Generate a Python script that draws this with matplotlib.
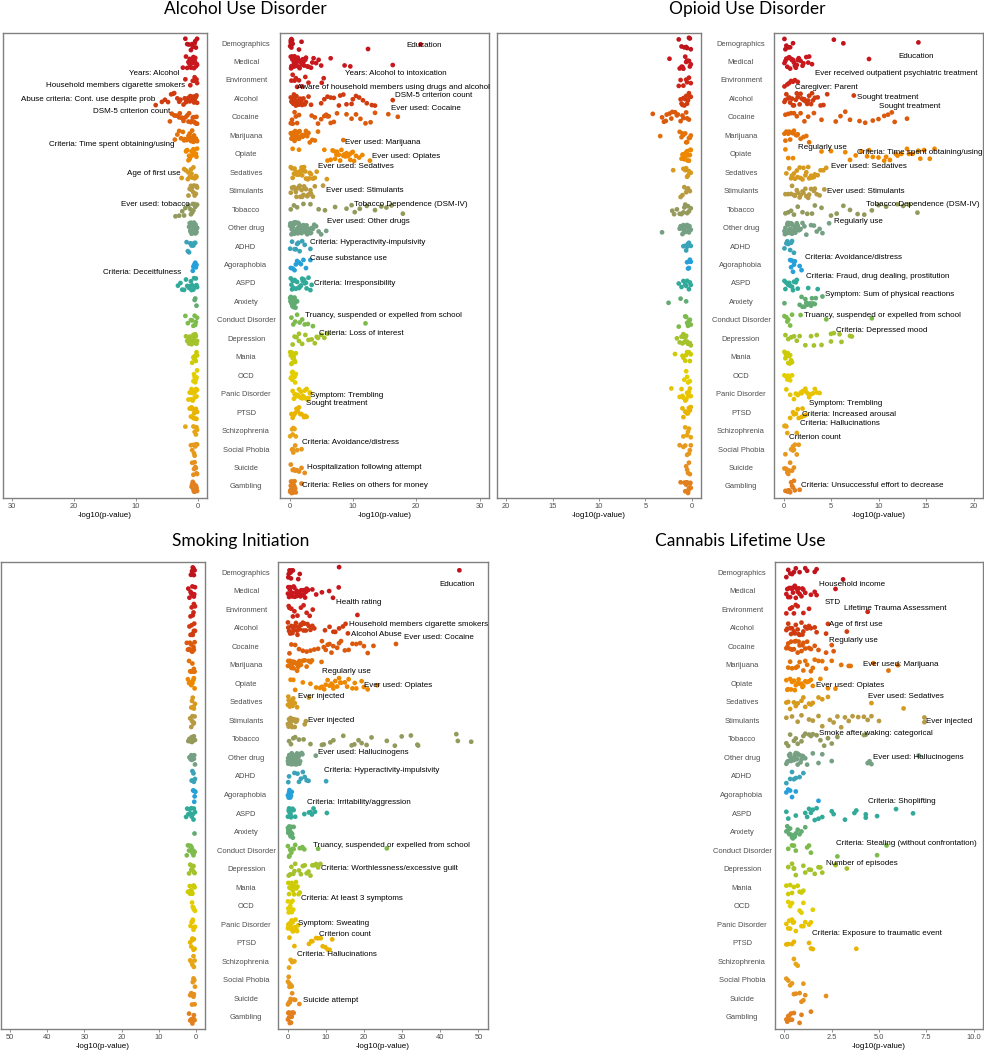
import numpy as np
import pandas as pd
import matplotlib
matplotlib.use("Agg")
import matplotlib.pyplot as plt
import matplotlib.transforms as mtransforms
import seaborn as sns

plt.rcParams['font.family'] = ['Liberation Sans', 'DejaVu Sans']

# ── Categories and colours ────────────────────────────────────────────────
CATS = ["Demographics", "Medical", "Environment", "Alcohol", "Cocaine",
        "Marijuana", "Opiate", "Sedatives", "Stimulants", "Tobacco",
        "Other drug", "ADHD", "Agoraphobia", "ASPD", "Anxiety",
        "Conduct Disorder", "Depression", "Mania", "OCD", "Panic Disorder",
        "PTSD", "Schizophrenia", "Social Phobia", "Suicide", "Gambling"]

COLORS = ["#C0141C", "#C8181E", "#CC2418", "#D03C10", "#DB5A0C",
          "#E37208", "#EE8800", "#D69A1E", "#B89A40", "#949A5C",
          "#76A084", "#3AA3B8", "#26A0D8", "#32AA9A", "#62AC74",
          "#7DBB4C", "#A3C22C", "#CDCB06", "#E3CE00", "#E8C400",
          "#E8B400", "#E6A616", "#E6991C", "#E68E1E", "#E2801E"]

# ── -log10(p) values per category (same order as CATS) ───────────────────
AUD_RIGHT = [
    [0.1, 0.2, 0.3, 0.4, 0.5, 0.3, 0.2, 1.5, 1.9, 12.4, 20.7],
    [0.2, 0.3, 0.5, 0.6, 0.8, 1.0, 1.2, 1.4, 1.6, 1.8, 2.0, 2.3, 2.6, 3.0, 3.4, 3.8,
     4.2, 4.6, 5.0, 0.4, 0.7, 0.9, 1.1, 1.3, 1.5, 2.1, 2.8, 3.6, 6.5, 8.7, 9.6, 16.3,
     0.25, 0.45, 0.65, 0.85, 1.05, 1.25, 1.7, 2.2, 2.5],
    [0.5, 0.8, 1.0, 1.5, 2.0, 2.5, 3.0, 5.1, 5.4, 0.3, 1.2],
    [0.2, 0.4, 0.6, 0.8, 1.0, 1.3, 1.6, 1.9, 2.2, 2.6, 3.0, 3.4, 0.5, 1.1, 1.7, 2.4,
     5.0, 5.5, 6.5, 7.0, 7.8, 8.5, 9.0, 9.8, 10.5, 11.0, 11.6, 12.2, 13.0, 13.5,
     6.0, 8.0, 10.0, 16.3, 0.3, 0.7, 0.9, 1.2, 1.5, 2.0],
    [0.2, 0.5, 0.8, 1.2, 1.5, 3.5, 4.0, 4.5, 5.0, 5.5, 6.0, 6.5, 7.0, 7.5, 5.8, 6.2,
     9.0, 9.8, 10.5, 11.2, 12.0, 12.8, 13.5, 15.6, 17.1, 0.4, 1.0],
    [0.2, 0.4, 0.6, 0.8, 1.0, 1.2, 1.5, 1.8, 2.1, 2.4, 2.8, 3.2, 3.6, 4.0, 4.5, 0.5,
     1.1, 1.6, 2.0, 2.6, 3.0, 8.5, 0.3, 0.7, 0.9, 1.4],
    [0.5, 1.5, 5.5, 6.0, 6.5, 7.0, 7.5, 8.0, 8.5, 9.0, 9.5, 10.0, 10.5, 11.0, 11.5,
     7.2, 8.2, 9.2, 10.2, 6.8, 7.8, 8.8, 9.8, 12.7, 7.4, 8.6, 9.6],
    [0.2, 0.5, 0.8, 1.0, 1.3, 1.6, 1.9, 2.2, 2.5, 2.8, 3.1, 3.4, 3.7, 4.0, 4.3, 0.4,
     1.1, 1.7, 2.3, 2.9, 5.9, 0.7, 1.4, 2.0, 2.6, 3.2],
    [0.2, 0.5, 0.8, 1.0, 1.3, 1.6, 1.9, 2.2, 2.5, 2.8, 3.1, 3.4, 3.7, 4.0, 0.4, 1.1,
     1.7, 2.3, 2.9, 5.3, 0.7, 1.5, 2.6, 3.3, 2.0],
    [0.2, 0.7, 1.2, 2.2, 3.3, 4.6, 5.6, 7.2, 9.0, 9.8, 10.3, 11.1, 12.2, 13.5, 14.5,
     15.3, 16.1, 17.9],
    [0.1, 0.3, 0.5, 0.7, 0.9, 1.1, 1.3, 1.5, 1.7, 1.9, 2.1, 2.3, 2.5, 2.7, 2.9, 3.1,
     3.3, 3.5, 3.7, 3.9, 4.2, 4.6, 5.0, 0.2, 0.6, 1.0, 1.4, 1.8, 2.2, 2.6, 3.0, 3.4,
     0.4, 0.8, 1.2, 1.6, 2.0, 2.4, 5.8, 0.15, 0.35, 0.55, 0.75, 0.95, 1.15, 1.35,
     1.55, 1.75, 2.8],
    [0.1, 0.4, 0.8, 1.2, 1.6, 2.0, 2.4, 1.0, 1.4, 3.3],
    [0.2, 0.5, 0.8, 1.0, 1.2, 1.5, 1.8, 2.2, 2.6, 3.3],
    [0.2, 0.4, 0.6, 0.9, 1.2, 1.5, 1.8, 2.1, 2.4, 2.7, 3.0, 3.3, 0.3, 0.8, 1.4, 2.0,
     2.6, 3.5, 0.5, 1.0, 1.7, 2.3],
    [0.1, 0.2, 0.3, 0.4, 0.5, 0.6, 0.7, 0.8, 0.9, 1.0, 1.1, 1.2, 0.25, 0.45, 0.65,
     0.85, 0.35, 0.55, 0.75, 0.15, 0.95, 0.5, 0.7],
    [0.3, 0.6, 0.9, 1.2, 1.6, 2.0, 2.4, 2.9, 3.7, 12.0],
    [0.5, 0.8, 1.1, 1.5, 2.0, 2.5, 3.0, 3.5, 4.0, 4.5, 5.0, 5.5, 6.0, 4.3, 1.5],
    [0.1, 0.3, 0.5, 0.7, 0.9, 1.0, 0.2, 0.4, 0.6, 0.8, 0.35, 0.65],
    [0.2, 0.4, 0.6, 0.8, 0.3, 0.5, 0.7, 0.9, 1.0, 0.45],
    [0.5, 0.8, 1.1, 1.4, 1.7, 2.0, 2.3, 2.6, 2.9, 3.2, 0.7, 1.2, 1.8, 2.4, 3.0, 1.0,
     1.5, 2.1, 2.7, 3.3],
    [0.3, 0.7, 1.1, 1.5, 1.9, 2.3, 2.7, 1.3, 1.7, 2.5, 0.5, 0.9],
    [0.1, 0.4, 0.6, 0.8, 0.5, 1.0],
    [0.4, 0.6, 0.9, 1.2, 1.9, 0.5],
    [0.2, 0.5, 0.9, 1.2, 1.5, 1.9, 2.4, 0.7],
    [0.1, 0.2, 0.3, 0.4, 0.5, 0.6, 0.7, 0.8, 0.9, 1.0, 0.15, 0.35, 0.55, 0.75, 1.9,
     0.25, 0.45, 0.65],
]

AUD_LEFT = [
    [0.1, 0.3, 0.5, 0.8, 1.1, 1.4, 1.7, 2.0, 0.4, 0.9],
    [0.1, 0.3, 0.5, 0.7, 0.9, 1.1, 1.3, 1.5, 1.7, 1.9, 0.2, 0.6, 1.0, 1.4, 2.4,
     0.4, 0.8, 1.2],
    [0.1, 0.3, 0.5, 0.8, 0.2, 0.6, 2.0, 1.2],
    [0.1, 0.3, 0.5, 0.7, 0.9, 1.1, 1.3, 1.5, 1.7, 1.9, 2.1, 2.3, 0.2, 0.6, 1.0, 1.4,
     1.8, 2.8, 3.3, 3.8, 4.3, 4.8, 5.3, 5.8, 6.8, 3.0, 4.0, 0.4, 0.8, 1.2],
    [0.1, 0.3, 0.5, 0.8, 1.1, 1.4, 1.7, 2.0, 2.3, 2.6, 2.9, 3.2, 3.5, 3.8, 4.2, 0.2,
     0.6, 1.0, 1.5, 2.5, 3.0, 4.5],
    [0.1, 0.3, 0.5, 0.7, 0.9, 1.1, 1.3, 1.5, 1.8, 2.1, 2.4, 2.7, 3.0, 3.3, 0.2, 0.6,
     1.0, 1.6, 2.2, 3.7],
    [0.1, 0.3, 0.5, 0.7, 0.9, 1.1, 1.3, 1.5, 1.7, 1.9, 0.2, 0.6, 1.0, 1.4, 1.8],
    [0.2, 0.4, 0.7, 1.0, 1.3, 1.6, 1.9, 2.2, 2.6, 0.5, 1.1, 1.5, 0.3, 0.9],
    [0.1, 0.3, 0.5, 0.7, 0.9, 1.1, 1.3, 1.5, 0.2, 0.6, 1.0],
    [0.1, 0.3, 0.5, 0.7, 0.9, 1.2, 1.5, 2.0, 2.5, 3.0, 3.6, 0.4, 0.8, 1.1, 2.2],
    [0.1, 0.2, 0.3, 0.4, 0.5, 0.6, 0.7, 0.8, 0.9, 1.0, 1.1, 1.2, 1.3, 1.4, 0.15,
     0.35, 0.55, 0.75, 0.95, 1.15],
    [0.4, 0.6, 0.8, 1.0, 1.2, 1.4, 1.6, 1.8, 0.7, 1.1],
    [0.2, 0.4, 0.6, 0.8, 0.5, 0.3, 0.7],
    [0.1, 0.3, 0.5, 0.7, 0.9, 1.1, 1.3, 1.5, 1.7, 1.9, 2.2, 2.5, 2.8, 0.2, 0.6, 1.0,
     1.4, 3.2],
    [0.2, 0.4, 0.5],
    [0.1, 0.3, 0.5, 0.7, 0.9, 1.1, 2.0, 1.6, 0.4],
    [0.1, 0.3, 0.5, 0.7, 0.9, 1.1, 1.3, 1.5, 1.7, 1.9, 0.2, 0.6, 1.0, 1.4, 0.4, 0.8],
    [0.1, 0.3, 0.5, 0.7, 0.9, 0.2, 0.6, 0.4],
    [0.1, 0.3, 0.5, 0.7, 0.2, 0.6, 0.4],
    [0.1, 0.3, 0.5, 0.7, 0.9, 1.1, 1.3, 1.5, 0.2, 0.6, 1.0, 0.4, 0.8],
    [0.1, 0.3, 0.5, 0.7, 0.9, 1.1, 1.3, 0.2, 0.6, 1.0, 0.4],
    [0.1, 0.3, 0.5, 0.7, 2.0, 0.4, 0.2],
    [0.1, 0.3, 0.5, 0.7, 0.9, 1.1, 0.4, 0.6],
    [0.1, 0.3, 0.5, 0.7, 0.9, 0.4, 0.6, 0.2],
    [0.1, 0.2, 0.3, 0.4, 0.5, 0.6, 0.7, 0.8, 0.9, 1.0, 0.25, 0.45, 0.65],
]

OUD_RIGHT = [
    [0.1, 0.3, 0.5, 0.7, 1.0, 0.2, 5.3, 6.3, 14.2],
    [0.1, 0.3, 0.5, 0.7, 0.9, 1.1, 1.3, 1.5, 1.8, 2.1, 2.4, 2.7, 3.0, 0.2, 0.6, 1.0,
     1.4, 2.0, 2.6, 9.0, 0.4, 0.8, 1.2, 1.6],
    [0.1, 0.4, 0.8, 1.2, 1.5, 0.6, 1.0],
    [0.1, 0.3, 0.5, 0.7, 0.9, 1.1, 1.3, 1.5, 1.7, 1.9, 2.1, 2.3, 2.5, 2.7, 2.9, 3.1,
     3.3, 3.6, 3.9, 4.2, 0.2, 0.6, 1.0, 1.4, 1.8, 2.2, 2.6, 3.0, 7.4, 4.6],
    [0.2, 0.5, 0.8, 1.1, 1.4, 1.8, 2.2, 2.6, 3.2, 4.0, 5.5, 6.0, 6.5, 7.0, 8.0, 8.6,
     9.4, 10.0, 10.6, 11.0, 11.4, 11.7, 13.0],
    [0.1, 0.3, 0.5, 0.7, 0.9, 1.1, 1.3, 1.5, 1.8, 2.1, 2.4, 2.7, 0.2, 0.6, 1.0, 1.4],
    [0.2, 0.5, 1.0, 6.5, 7.0, 7.6, 8.2, 8.8, 9.4, 10.0, 10.6, 11.2, 11.8, 12.4, 13.0,
     13.6, 14.2, 14.8, 15.4, 15.9, 9.0, 10.8, 12.0, 13.2, 14.4, 4.0, 5.0],
    [0.3, 0.6, 0.9, 1.2, 1.5, 1.8, 2.1, 2.4, 2.7, 3.0, 3.3, 3.6, 3.9, 4.2, 4.5, 0.8,
     1.4, 2.0, 2.6, 3.2, 1.1, 1.7, 2.3, 2.9],
    [0.2, 0.5, 0.8, 1.1, 1.4, 1.7, 2.0, 2.3, 2.6, 2.9, 3.2, 3.5, 3.8, 4.3, 0.9, 1.5,
     2.1, 2.7, 3.3, 1.2, 1.8, 2.4],
    [0.2, 0.5, 0.8, 1.1, 1.5, 2.0, 2.5, 3.0, 3.3, 4.0, 5.0, 5.6, 6.3, 7.0, 7.8, 8.5,
     9.3, 10.0, 10.8, 12.0, 12.6, 13.2, 14.1],
    [0.1, 0.2, 0.3, 0.4, 0.5, 0.6, 0.7, 0.8, 0.9, 1.0, 1.1, 1.2, 1.3, 1.4, 1.5, 1.6,
     1.7, 1.8, 2.0, 2.2, 2.4, 0.15, 0.35, 0.55, 0.75, 0.95, 1.25, 1.45, 2.9, 3.2,
     3.5, 3.8, 4.1, 4.8, 0.45, 0.65, 0.85, 1.05],
    [0.1, 0.3, 0.5, 0.7, 0.9, 1.1, 0.4, 0.8],
    [0.8, 0.9, 1.0, 1.1, 0.7, 1.2, 1.7, 1.9],
    [0.1, 0.3, 0.5, 0.7, 0.9, 1.1, 1.3, 1.5, 0.2, 0.6, 1.0, 1.4, 2.6, 3.6],
    [0.1, 1.7, 1.9, 2.2, 2.5, 2.8, 3.1, 3.4, 2.0, 2.4, 2.7, 3.0, 3.3, 2.3, 2.9, 4.1],
    [0.1, 0.3, 0.5, 0.7, 0.9, 0.4, 1.8, 4.5, 9.3],
    [0.2, 0.5, 0.8, 1.1, 1.4, 1.7, 2.3, 2.9, 3.2, 3.5, 4.0, 5.0, 5.3, 5.9, 6.1, 7.0,
     7.2, 5.0],
    [0.1, 0.2, 0.3, 0.4, 0.5, 0.6, 0.7, 0.8, 0.9, 0.25, 0.45, 0.65],
    [0.1, 0.3, 0.5, 0.7, 0.9, 0.4, 0.6],
    [0.3, 0.7, 1.1, 1.5, 1.9, 2.3, 2.7, 3.1, 3.5, 3.8, 1.3, 1.8, 2.4, 2.9, 3.3, 2.0,
     2.6],
    [0.7, 1.0, 1.3, 1.6, 1.9, 2.2, 2.4, 1.1, 1.5, 2.0],
    [0.1, 0.3, 0.4, 1.4, 0.2],
    [0.2, 0.8, 1.0, 1.2, 1.4, 1.6, 1.0, 1.1],
    [0.1, 0.3, 0.5, 0.7, 0.9, 1.1, 0.4, 0.6],
    [0.2, 0.4, 0.6, 0.8, 1.0, 1.2, 0.5, 0.7, 0.9, 1.1, 1.7],
]

OUD_LEFT = [
    [0.1, 0.3, 0.5, 0.8, 1.1, 1.4, 0.2, 0.6],
    [0.1, 0.3, 0.5, 0.7, 0.9, 1.1, 1.3, 0.2, 0.6, 1.0, 2.4],
    [0.1, 0.3, 0.6, 0.9, 1.2, 1.4, 0.5],
    [0.1, 0.2, 0.3, 0.4, 0.5, 0.6, 0.7, 0.8, 0.9, 1.0, 1.1, 1.2],
    [0.3, 0.6, 0.9, 1.2, 1.5, 1.8, 2.1, 2.4, 2.7, 3.0, 3.2, 0.5, 1.0, 1.6, 2.2, 2.8,
     4.2],
    [0.1, 0.3, 0.5, 0.7, 0.9, 1.1, 1.3, 0.2, 0.6, 1.0, 3.4],
    [0.1, 0.2, 0.3, 0.4, 0.5, 0.6, 0.7, 0.8, 0.9, 1.0, 1.1, 0.15, 0.45],
    [0.1, 0.3, 0.5, 0.7, 0.9, 2.0, 0.4, 0.6],
    [0.2, 0.4, 0.6, 0.8, 1.0, 1.2, 0.5],
    [0.1, 0.3, 0.5, 0.7, 0.9, 1.1, 1.3, 1.6, 1.9, 2.1, 0.4, 0.8],
    [0.1, 0.2, 0.3, 0.4, 0.5, 0.6, 0.7, 0.8, 0.9, 1.0, 1.1, 1.2, 1.3, 0.25, 0.55,
     0.85, 3.2],
    [0.1, 0.3, 0.5, 0.7, 0.9, 0.4, 0.6],
    [0.1, 0.2, 0.3, 0.4, 0.5, 0.25],
    [0.1, 0.3, 0.5, 0.7, 0.9, 1.1, 1.4, 0.2, 0.6],
    [2.5, 1.2, 0.6],
    [1.4, 0.1, 0.3, 0.5, 0.7, 0.2, 0.4, 0.6],
    [0.1, 0.3, 0.5, 0.7, 0.9, 1.1, 1.3, 1.6, 0.2, 0.6, 1.0, 0.4, 0.8],
    [1.8, 0.1, 0.3, 0.5, 0.7, 0.9, 0.2, 0.6, 1.0],
    [0.2, 0.4, 0.6, 0.8, 0.5],
    [2.2, 0.1, 0.3, 0.5, 0.7, 0.9, 1.1, 1.3, 0.2, 0.6, 1.0, 0.4],
    [0.1, 0.3, 0.5, 0.7, 0.9, 0.2, 0.6, 1.0, 0.4],
    [0.1, 0.3, 0.5, 0.7, 0.9, 0.4],
    [0.1, 0.3, 0.5, 0.7, 1.3, 0.9, 0.2],
    [0.2, 0.4, 0.6, 0.3, 0.5],
    [0.1, 0.2, 0.3, 0.4, 0.5, 0.6, 0.7, 0.8, 1.2, 0.15, 0.35, 0.55],
]

SI_RIGHT = [
    [0.2, 0.5, 0.8, 1.1, 1.4, 0.3, 0.9, 2.8, 3.2, 13.5, 45.0],
    [0.1, 0.4, 0.7, 1.0, 1.3, 1.6, 1.9, 2.2, 2.5, 2.8, 3.1, 3.4, 3.7, 4.0, 4.3, 4.6,
     5.0, 5.4, 0.2, 0.6, 1.2, 1.8, 2.4, 3.0, 3.6, 4.2, 4.8, 6.5, 7.5, 9.0, 10.9,
     13.4, 11.9],
    [0.3, 1.0, 1.8, 2.6, 3.5, 4.2, 5.0, 5.8, 6.6, 1.4, 0.5, 18.3],
    [0.1, 0.4, 0.7, 1.0, 1.3, 1.6, 1.9, 2.2, 2.5, 2.8, 3.2, 3.6, 4.0, 4.4, 4.8, 5.2,
     5.6, 6.0, 6.5, 7.0, 0.2, 0.8, 1.4, 2.0, 2.6, 3.4, 4.2, 9.8, 11.0, 12.0, 12.5,
     13.5, 14.5, 15.2, 15.8],
    [0.5, 1.0, 2.0, 3.0, 4.0, 5.0, 6.0, 7.0, 8.0, 9.0, 9.5, 10.0, 10.5, 11.0, 12.0,
     13.0, 14.0, 15.0, 16.0, 17.0, 18.0, 19.0, 20.0, 21.0, 22.5, 11.5, 13.5, 28.4],
    [0.1, 0.4, 0.7, 1.0, 1.3, 1.6, 1.9, 2.2, 2.5, 2.8, 3.1, 3.5, 4.0, 4.5, 5.0, 5.5,
     6.0, 6.4, 0.2, 0.8, 1.5, 2.3, 3.0, 8.9],
    [0.8, 1.5, 2.0, 4.0, 6.0, 7.5, 8.5, 9.0, 9.6, 10.0, 10.5, 11.0, 11.5, 12.0, 12.5,
     13.0, 13.5, 14.0, 15.0, 16.0, 17.0, 18.0, 19.4, 20.0, 21.0, 11.8, 13.8, 15.6,
     17.6, 23.5],
    [0.1, 0.3, 0.5, 0.7, 0.9, 1.1, 1.3, 1.5, 1.7, 1.9, 0.2, 0.6, 1.0, 5.6, 2.5],
    [0.1, 0.3, 0.5, 0.7, 0.9, 1.1, 1.3, 1.5, 1.7, 1.9, 2.1, 2.3, 2.5, 0.4, 0.8, 1.2,
     4.5, 4.8],
    [0.4, 0.9, 1.5, 2.0, 3.0, 4.2, 6.0, 9.0, 9.5, 11.2, 12.0, 14.6, 16.8, 17.5, 18.6,
     19.4, 20.7, 22.0, 26.0, 28.1, 29.9, 32.3, 34.2, 34.0, 44.2, 44.6, 48.1],
    [0.1, 0.3, 0.5, 0.7, 0.9, 1.1, 1.3, 1.5, 1.7, 1.9, 2.1, 2.3, 2.5, 2.7, 2.9, 3.1,
     3.3, 3.5, 3.7, 3.9, 0.2, 0.4, 0.6, 0.8, 1.0, 1.2, 1.4, 1.6, 1.8, 2.0, 2.2, 2.4,
     2.6, 2.8, 3.0, 7.4, 0.15, 0.45, 0.75, 1.05, 1.35, 1.65],
    [0.4, 1.8, 2.6, 3.0, 3.5, 4.0, 4.5, 5.0, 5.5, 10.1, 0.2],
    [0.1, 0.3, 0.5, 0.7, 0.9, 1.1, 0.4],
    [0.1, 0.3, 0.5, 0.7, 0.9, 1.1, 1.3, 1.6, 2.0, 0.4, 0.8, 4.4, 5.6, 6.0, 6.4, 6.8,
     7.2, 10.3],
    [0.1, 0.2, 0.3, 0.4, 0.5, 0.6, 0.7, 0.8, 0.9, 1.0, 1.2, 1.4, 1.6, 0.25, 0.45,
     0.65],
    [0.1, 0.4, 0.7, 1.0, 1.3, 1.6, 2.0, 0.5, 3.2, 3.8, 4.4, 3.9, 8.0, 26.0],
    [0.3, 0.7, 1.0, 1.5, 2.0, 3.0, 3.5, 4.0, 4.5, 5.0, 5.5, 6.0, 6.5, 7.0, 7.5, 8.0,
     8.6, 1.8],
    [0.2, 0.5, 0.8, 1.1, 1.4, 1.7, 2.0, 2.3, 2.6, 2.9, 3.2, 0.4, 1.0, 1.6, 2.2],
    [0.1, 0.3, 0.5, 0.7, 0.9, 1.1, 1.3, 0.2, 0.6, 1.5],
    [0.1, 0.3, 0.5, 0.7, 0.9, 1.1, 1.3, 1.5, 1.7, 1.9, 2.1, 2.3, 2.5, 0.2, 0.4, 0.6,
     0.8, 1.0, 1.2, 1.4, 2.8],
    [5.6, 6.5, 7.5, 8.0, 8.7, 9.2, 9.9, 10.5, 11.0, 11.7, 0.5, 1.8, 6.2],
    [0.4, 1.2, 1.5, 1.8, 0.8],
    [0.1, 0.3, 0.5, 0.7, 0.9, 1.1, 0.4],
    [0.1, 0.4, 0.8, 1.2, 1.6, 2.0, 0.6, 3.1],
    [0.1, 0.3, 0.5, 0.7, 0.9, 1.1, 1.3, 1.6, 0.2, 0.6, 1.0, 0.4],
]

SI_LEFT = [
    [0.3, 0.5, 0.8, 1.0, 1.3, 0.6, 0.9],
    [0.2, 0.5, 0.8, 1.1, 1.4, 1.7, 2.0, 0.4, 0.9, 1.2],
    [0.2, 0.5, 0.8, 1.1, 1.4, 0.6],
    [0.2, 0.5, 0.8, 1.1, 1.4, 1.7, 0.4, 0.9],
    [0.3, 0.6, 0.9, 1.2, 1.5, 1.8, 2.1, 2.4, 0.5, 1.0, 1.6],
    [0.3, 0.6, 0.9, 1.2, 1.5, 1.8, 0.5, 1.0],
    [0.3, 0.6, 0.9, 1.2, 1.5, 1.8, 2.1, 0.5, 1.0, 1.6],
    [0.2, 0.5, 0.8, 1.0, 1.2, 0.6],
    [0.3, 0.6, 0.9, 1.2, 1.5, 0.5, 1.0],
    [0.2, 0.5, 0.8, 1.1, 1.4, 1.7, 2.0, 0.6, 1.0],
    [0.2, 0.5, 0.8, 1.1, 1.4, 1.7, 0.4, 0.9, 1.2],
    [0.2, 0.5, 0.8, 1.1, 0.6, 0.9],
    [0.1, 0.3, 0.5, 0.7, 0.4],
    [0.2, 0.5, 0.8, 1.1, 1.4, 1.7, 2.0, 2.3, 2.6, 0.6, 1.2],
    [0.5],
    [0.3, 0.6, 0.9, 1.2, 1.5, 1.8, 2.1, 2.4, 0.5, 1.0],
    [0.3, 0.6, 0.9, 1.2, 1.5, 1.8, 0.5, 1.0],
    [0.3, 0.6, 0.9, 1.2, 1.5, 1.8, 2.1, 0.5, 1.0, 1.6],
    [0.2, 0.5, 0.8, 1.0, 0.6],
    [0.2, 0.5, 0.8, 1.1, 1.4, 0.6, 0.9],
    [0.3, 0.6, 0.9, 1.2, 1.5, 0.5, 1.0],
    [0.3, 0.6, 0.9, 1.2, 1.5, 0.5],
    [0.2, 0.4, 0.6, 0.8, 0.5],
    [0.3, 0.6, 0.9, 1.2, 1.5, 0.5, 1.0],
    [0.3, 0.6, 0.9, 1.2, 1.5, 1.8, 0.5, 1.0],
]

CLU_RIGHT = [
    [0.1, 0.2, 0.3, 0.4, 0.5, 0.6, 0.8, 1.1, 1.2, 1.6, 1.7, 3.1],
    [0.1, 0.2, 0.3, 0.4, 0.5, 0.6, 0.7, 0.8, 0.9, 1.0, 1.1, 0.15, 0.35, 0.55, 0.75,
     0.95, 1.4, 1.6, 1.7, 2.7, 0.25, 0.45, 0.65],
    [0.1, 0.3, 0.4, 0.5, 0.7, 1.0, 1.3, 0.6, 4.4],
    [0.1, 0.2, 0.3, 0.4, 0.5, 0.6, 0.7, 0.8, 0.9, 1.0, 1.1, 1.2, 1.3, 1.4, 0.15, 0.35,
     0.55, 0.75, 0.95, 1.6, 1.7, 2.2, 2.3, 3.3],
    [0.1, 0.2, 0.3, 0.4, 0.5, 0.6, 0.7, 0.8, 0.9, 1.0, 1.1, 1.2, 1.3, 1.4, 1.6, 1.8,
     0.15, 0.35, 0.55, 0.75, 0.95, 2.2, 2.5, 2.6],
    [0.2, 0.4, 0.6, 0.8, 1.0, 1.2, 1.4, 1.6, 1.8, 2.0, 2.2, 2.5, 3.0, 3.4, 3.5, 4.7,
     5.5, 6.0, 0.3, 0.7, 1.1, 1.5],
    [0.1, 0.2, 0.3, 0.4, 0.5, 0.6, 0.7, 0.8, 0.9, 1.0, 1.1, 1.2, 1.3, 1.4, 1.5, 0.15,
     0.35, 0.55, 0.75, 0.95, 1.9, 2.3, 2.7],
    [0.1, 0.3, 0.5, 0.7, 0.9, 1.1, 1.3, 1.5, 0.2, 0.6, 1.0, 1.4, 1.8, 2.0, 2.3, 4.6,
     6.3],
    [0.1, 0.4, 0.7, 0.9, 1.3, 1.5, 1.8, 2.0, 2.4, 2.6, 2.8, 3.0, 3.2, 3.4, 3.6, 3.9,
     4.2, 4.4, 4.6, 5.0, 7.4, 7.4],
    [0.1, 0.3, 0.5, 0.7, 0.9, 1.1, 1.3, 1.5, 1.7, 1.9, 2.1, 2.3, 2.5, 2.8, 0.2, 0.6,
     1.0, 1.4, 4.2, 4.3],
    [0.1, 0.2, 0.3, 0.4, 0.5, 0.6, 0.7, 0.8, 0.9, 1.0, 1.1, 1.2, 0.15, 0.25, 0.35,
     0.45, 0.55, 0.65, 0.75, 0.85, 0.95, 1.5, 1.8, 2.0, 2.5, 4.4, 4.5, 4.6, 7.1,
     0.3, 0.5, 0.7],
    [0.1, 0.3, 0.5, 0.6, 0.8, 1.0, 0.4],
    [0.1, 0.2, 0.4, 0.6, 1.8, 0.3],
    [0.1, 0.2, 0.6, 1.1, 1.2, 1.4, 1.5, 1.6, 1.8, 2.0, 2.5, 2.6, 1.3, 1.7, 3.2, 3.7,
     3.8, 4.3, 4.3, 4.9, 5.9, 6.8],
    [0.1, 0.2, 0.3, 0.4, 0.5, 0.6, 0.7, 0.8, 0.9, 0.15, 0.25, 0.35, 0.45, 0.55, 1.1],
    [0.2, 0.4, 0.5, 0.6, 1.2, 1.3, 1.4, 2.8, 4.9, 5.4],
    [0.2, 0.4, 0.5, 0.6, 1.0, 1.1, 1.3, 1.4, 1.6, 1.8, 1.9, 2.0, 2.7, 2.7, 3.3, 0.5],
    [0.1, 0.3, 0.4, 0.5, 0.7, 0.8, 0.9, 1.0, 0.2],
    [0.2, 0.3, 0.8, 0.9, 1.0, 1.5, 0.4],
    [0.1, 0.2, 0.3, 0.4, 0.5, 0.6, 0.9, 1.0, 1.1, 1.3, 1.4, 0.25, 0.45],
    [0.1, 0.2, 0.4, 0.5, 1.3, 1.4, 1.5, 3.8],
    [0.5, 0.6, 0.7],
    [0.1, 0.2, 0.3, 0.4, 1.0],
    [0.5, 0.6, 0.9, 1.0, 1.1, 0.8, 2.2],
    [0.1, 0.2, 0.3, 0.35, 0.4, 0.5, 0.8, 0.9, 1.4, 0.15, 0.25],
]

# ── Point labels: text, category ─────────────────────────────────────────
AUD_RIGHT_LABELS = [
    ("Education", "Demographics"), ("Years: Alcohol to intoxication", "Medical"),
    ("Aware of household members using drugs and alcohol", "Environment"),
    ("DSM-5 criterion count", "Alcohol"), ("Ever used: Cocaine", "Cocaine"),
    ("Ever used: Marijuana", "Marijuana"), ("Ever used: Opiates", "Opiate"),
    ("Ever used: Sedatives", "Sedatives"), ("Ever used: Stimulants", "Stimulants"),
    ("Tobacco Dependence (DSM-IV)", "Tobacco"), ("Ever used: Other drugs", "Other drug"),
    ("Criteria: Hyperactivity-impulsivity", "ADHD"), ("Cause substance use", "Agoraphobia"),
    ("Criteria: Irresponsibility", "ASPD"),
    ("Truancy, suspended or expelled from school", "Conduct Disorder"),
    ("Criteria: Loss of interest", "Depression"), ("Symptom: Trembling", "Panic Disorder"),
    ("Sought treatment", "PTSD"), ("Criteria: Avoidance/distress", "Social Phobia"),
    ("Hospitalization following attempt", "Suicide"),
    ("Criteria: Relies on others for money", "Gambling"),
]
AUD_LEFT_LABELS = [
    ("Years: Alcohol", "Medical"), ("Household members cigarette smokers", "Environment"),
    ("Abuse criteria: Cont. use despite prob", "Alcohol"), ("DSM-5 criterion count", "Cocaine"),
    ("Criteria: Time spent obtaining/using", "Marijuana"), ("Age of first use", "Sedatives"),
    ("Ever used: tobacco", "Tobacco"), ("Criteria: Deceitfulness", "ASPD"),
]
OUD_RIGHT_LABELS = [
    ("Education", "Demographics"),
    ("Ever received outpatient psychiatric treatment", "Medical"),
    ("Caregiver: Parent", "Environment"), ("Sought treatment", "Alcohol"),
    ("Sought treatment", "Cocaine"), ("Regularly use", "Opiate"),
    ("Criteria: Time spent obtaining/using", "Opiate"), ("Ever used: Sedatives", "Sedatives"),
    ("Ever used: Stimulants", "Stimulants"), ("Tobacco Dependence (DSM-IV)", "Tobacco"),
    ("Regularly use", "Other drug"), ("Criteria: Avoidance/distress", "Agoraphobia"),
    ("Criteria: Fraud, drug dealing, prostitution", "ASPD"),
    ("Symptom: Sum of physical reactions", "Anxiety"),
    ("Truancy, suspended or expelled from school", "Conduct Disorder"),
    ("Criteria: Depressed mood", "Depression"), ("Symptom: Trembling", "Panic Disorder"),
    ("Criteria: Increased arousal", "PTSD"), ("Criteria: Hallucinations", "Schizophrenia"),
    ("Criterion count", "Social Phobia"),
    ("Criteria: Unsuccessful effort to decrease", "Gambling"),
]
SI_RIGHT_LABELS = [
    ("Education", "Demographics"), ("Health rating", "Medical"),
    ("Household members cigarette smokers", "Environment"), ("Alcohol Abuse", "Alcohol"),
    ("Ever used: Cocaine", "Cocaine"), ("Regularly use", "Marijuana"),
    ("Ever used: Opiates", "Opiate"), ("Ever injected", "Sedatives"),
    ("Ever injected", "Stimulants"), ("Ever used: Hallucinogens", "Other drug"),
    ("Criteria: Hyperactivity-impulsivity", "ADHD"),
    ("Criteria: Irritability/aggression", "ASPD"),
    ("Truancy, suspended or expelled from school", "Conduct Disorder"),
    ("Criteria: Worthlessness/excessive guilt", "Depression"),
    ("Criteria: At least 3 symptoms", "OCD"), ("Symptom: Sweating", "Panic Disorder"),
    ("Criterion count", "PTSD"), ("Criteria: Hallucinations", "Schizophrenia"),
    ("Suicide attempt", "Suicide"),
]
CLU_RIGHT_LABELS = [
    ("Household income", "Demographics"), ("STD", "Medical"),
    ("Lifetime Trauma Assessment", "Environment"), ("Age of first use", "Alcohol"),
    ("Regularly use", "Cocaine"), ("Ever used: Marijuana", "Marijuana"),
    ("Ever used: Opiates", "Opiate"), ("Ever used: Sedatives", "Sedatives"),
    ("Ever injected", "Stimulants"), ("Smoke after waking: categorical", "Tobacco"),
    ("Ever used: Hallucinogens", "Other drug"), ("Criteria: Shoplifting", "ASPD"),
    ("Criteria: Stealing (without confrontation)", "Conduct Disorder"),
    ("Number of episodes", "Depression"),
    ("Criteria: Exposure to traumatic event", "PTSD"),
]

# ── Label placement (x in data units, y in category units) — layout only ──
AUD_RIGHT_POS = [(18.4, 0.1), (8.8, 1.6), (1.26, 2.33), (16.6, 2.8), (16.0, 3.47),
                 (8.7, 5.36), (13.1, 6.07), (4.45, 6.66), (5.76, 7.96), (10.2, 8.72),
                 (5.9, 9.64), (3.3, 10.78), (3.3, 11.6), (3.9, 12.95), (2.5, 14.7),
                 (4.6, 15.7), (3.2, 19.07), (2.6, 19.5), (2.04, 21.6), (2.8, 22.97),
                 (2.04, 23.9)]
AUD_LEFT_POS = [(2.9, 1.57), (2.0, 2.27), (6.9, 2.98), (4.4, 3.68), (3.7, 5.42),
                (2.74, 6.99), (1.3, 8.67), (2.6, 12.4)]
OUD_RIGHT_POS = [(12.1, 0.65), (3.3, 1.57), (1.16, 2.38), (7.7, 2.87), (10.1, 3.41),
                 (1.5, 5.63), (7.75, 5.9), (5.0, 6.66), (4.6, 8.0), (8.7, 8.72),
                 (5.3, 9.64), (2.3, 11.54), (2.4, 12.57), (4.35, 13.58), (2.2, 14.7),
                 (5.5, 15.5), (2.67, 19.5), (2.0, 20.08), (1.7, 20.55), (0.63, 21.3),
                 (1.86, 23.94)]
SI_RIGHT_POS = [(39.7, 0.61), (12.8, 1.57), (16.2, 2.76), (16.7, 3.33), (30.5, 3.5),
                (9.0, 5.3), (19.9, 6.05), (2.8, 6.68), (5.4, 7.96), (8.0, 9.66),
                (9.5, 10.63), (5.1, 12.36), (6.6, 14.7), (8.85, 15.96), (3.4, 17.58),
                (2.8, 18.92), (8.2, 19.48), (2.5, 20.56), (4.0, 23.04)]
CLU_RIGHT_POS = [(1.83, 0.61), (2.1, 1.57), (3.13, 1.89), (2.34, 2.76), (2.35, 3.66),
                 (4.16, 4.94), (1.65, 6.04), (4.44, 6.65), (7.47, 7.98), (1.81, 8.67),
                 (4.7, 9.96), (4.4, 12.34), (2.7, 14.61), (2.2, 15.68), (1.48, 19.44)]

W, H = 984, 1050
GREY = "#808080"


def px_axes(fig, x0, x1, top, bottom):
    return fig.add_axes([x0 / W, 1 - bottom / H, (x1 - x0) / W, (bottom - top) / H])


def strip(ax, groups, xlim, ticks):
    vals, cats = [], []
    for c, g in zip(CATS, groups):
        vals += g
        cats += [c] * len(g)
    df = pd.DataFrame({"value": vals, "category": cats})
    sns.stripplot(data=df, x="value", y="category", order=CATS, hue="category",
                  hue_order=CATS, palette=COLORS, jitter=0.34, size=3.4,
                  linewidth=0, legend=False, ax=ax)
    ax.set_ylim(len(CATS) - 1 + 0.6, -0.6)
    ax.set_xlim(*xlim)
    ax.set_xticks(ticks)
    ax.set_yticks([])
    ax.set_ylabel("")
    ax.set_xlabel("-log10(p-value)", fontsize=5.8, labelpad=1.5)
    for s in ax.spines.values():
        s.set_color(GREY)
        s.set_linewidth(1.0)
    ax.tick_params(axis="x", length=2, width=0.6, color=GREY, labelsize=5.4,
                   labelcolor="#4d4d4d", pad=1.5)


def labels(ax, items, pos, ha="left"):
    for (txt, _), (x, y) in zip(items, pos):
        ax.text(x, y, txt, ha=ha, va="center", fontsize=5.8, color="black")


def category_names(fig, ax, xc):
    tr = mtransforms.blended_transform_factory(fig.transFigure, ax.transData)
    for i, c in enumerate(CATS):
        ax.text(xc / W, i, c, transform=tr, ha="center", va="center",
                fontsize=5.4, color="#4d4d4d", clip_on=False)


np.random.seed(7)
fig = plt.figure(figsize=(W / 100, H / 100), dpi=100)

# ── Alcohol Use Disorder ─────────────────────────────────────────────────
ax = px_axes(fig, 3, 207, 33, 498)
strip(ax, AUD_LEFT, (31.5, -1.5), [0, 10, 20, 30])
labels(ax, AUD_LEFT_LABELS, AUD_LEFT_POS, ha="right")
ax = px_axes(fig, 280, 489, 33, 498)
strip(ax, AUD_RIGHT, (-1.5, 31.5), [0, 10, 20, 30])
labels(ax, AUD_RIGHT_LABELS, AUD_RIGHT_POS)
category_names(fig, ax, 246)
fig.text(245 / W, 1 - 9 / H, "Alcohol Use Disorder", ha="center", va="center",
         fontsize=12.5, family="Lato")

# ── Opioid Use Disorder ──────────────────────────────────────────────────
ax = px_axes(fig, 497, 701, 33, 498)
strip(ax, OUD_LEFT, (21, -1), [0, 5, 10, 15, 20])
ax = px_axes(fig, 774, 983, 33, 498)
strip(ax, OUD_RIGHT, (-1, 21), [0, 5, 10, 15, 20])
labels(ax, OUD_RIGHT_LABELS, OUD_RIGHT_POS)
category_names(fig, ax, 741)
fig.text(747 / W, 1 - 9 / H, "Opioid Use Disorder", ha="center", va="center",
         fontsize=12.5, family="Lato")

# ── Smoking Initiation ───────────────────────────────────────────────────
ax = px_axes(fig, 1, 205, 562, 1029)
strip(ax, SI_LEFT, (52.5, -2.5), [0, 10, 20, 30, 40, 50])
ax = px_axes(fig, 278, 488, 562, 1029)
strip(ax, SI_RIGHT, (-2.5, 52.5), [0, 10, 20, 30, 40, 50])
labels(ax, SI_RIGHT_LABELS, SI_RIGHT_POS)
category_names(fig, ax, 246)
fig.text(241 / W, 1 - 541 / H, "Smoking Initiation", ha="center", va="center",
         fontsize=12.5, family="Lato")

# ── Cannabis Lifetime Use ────────────────────────────────────────────────
ax = px_axes(fig, 775, 983, 562, 1029)
strip(ax, CLU_RIGHT, (-0.5, 10.5), [0.0, 2.5, 5.0, 7.5, 10.0])
labels(ax, CLU_RIGHT_LABELS, CLU_RIGHT_POS)
category_names(fig, ax, 742)
fig.text(740 / W, 1 - 541 / H, "Cannabis Lifetime Use", ha="center", va="center",
         fontsize=12.5, family="Lato")

fig.savefig("out.png", dpi=100)
